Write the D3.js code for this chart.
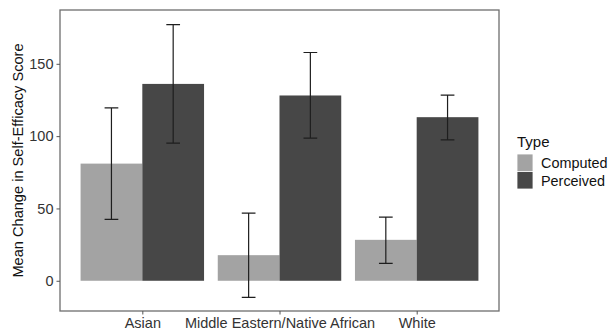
<!DOCTYPE html>
<html>
<head>
<meta charset="utf-8">
<script src="https://cdn.jsdelivr.net/npm/d3@7"></script>
<style>
  body { margin: 0; background: #fff; }
  text { font-family: "Liberation Sans", Arial, sans-serif; }
</style>
</head>
<body>
<div id="chart"></div>
<script>
// data
const groups = ["Asian", "Middle Eastern/Native African", "White"];
const types = ["Computed", "Perceived"];
const computed = [81, 17.7, 28.3];
const computedLow = [42.4, -11.5, 12];
const computedHigh = [119.6, 46.8, 44];
const perceived = [136.1, 128.1, 113.1];
const perceivedLow = [95.2, 98.6, 97.4];
const perceivedHigh = [177.1, 157.8, 128.3];
const yTicks = [0, 50, 100, 150];

const colors = { Computed: "#a3a3a3", Perceived: "#474747" };

const width = 610, height = 331;
const panel = { left: 60, top: 10, right: 499, bottom: 311 };

const svg = d3.select("#chart")
  .append("svg")
  .attr("width", width)
  .attr("height", height);

// ggplot style discrete scale: 0.6 units padding each side
const xCat = d3.scaleLinear()
  .domain([0.4, groups.length + 0.6])
  .range([panel.left, panel.right]);

const y = d3.scaleLinear()
  .domain([-20.9, 187.2])
  .range([panel.bottom, panel.top]);

const barW = 0.45; // in category units

const rows = [];
groups.forEach((g, i) => {
  rows.push({ g: g, i: i, type: "Computed", v: computed[i], lo: computedLow[i], hi: computedHigh[i], off: -barW / 2 });
  rows.push({ g: g, i: i, type: "Perceived", v: perceived[i], lo: perceivedLow[i], hi: perceivedHigh[i], off: barW / 2 });
});

// bars
svg.append("g")
  .selectAll("rect")
  .data(rows)
  .join("rect")
  .attr("x", d => xCat(d.i + 1 + d.off - barW / 2))
  .attr("width", d => xCat(d.i + 1 + d.off + barW / 2) - xCat(d.i + 1 + d.off - barW / 2))
  .attr("y", d => y(Math.max(0, d.v)))
  .attr("height", d => Math.abs(y(d.v) - y(0)))
  .attr("fill", d => colors[d.type]);

// error bars
const capHalf = 0.05;
const err = svg.append("g")
  .attr("stroke", "#1e1e1e")
  .attr("stroke-width", 1.2)
  .attr("fill", "none");

err.selectAll("path")
  .data(rows)
  .join("path")
  .attr("d", d => {
    const c = xCat(d.i + 1 + d.off);
    const l = xCat(d.i + 1 + d.off - capHalf), r = xCat(d.i + 1 + d.off + capHalf);
    return `M${l},${y(d.hi)}H${r}M${c},${y(d.hi)}V${y(d.lo)}M${l},${y(d.lo)}H${r}`;
  });

// panel border
svg.append("rect")
  .attr("x", panel.left)
  .attr("y", panel.top)
  .attr("width", panel.right - panel.left)
  .attr("height", panel.bottom - panel.top)
  .attr("fill", "none")
  .attr("stroke", "#6e6e6e")
  .attr("stroke-width", 1.3);

// x axis
const xAxis = svg.append("g")
  .attr("transform", `translate(0,${panel.bottom})`)
  .call(d3.axisBottom(xCat)
    .tickValues(groups.map((g, i) => i + 1))
    .tickFormat((d, i) => groups[i])
    .tickSize(3.5)
    .tickPadding(3));
xAxis.select(".domain").remove();
xAxis.selectAll("line").attr("stroke", "#555");
xAxis.selectAll("text")
  .attr("fill", "#333")
  .style("font-size", "14.5px")
  .style("font-family", "'Liberation Sans', Arial, sans-serif");

// y axis
const yAxis = svg.append("g")
  .attr("transform", `translate(${panel.left},0)`)
  .call(d3.axisLeft(y)
    .tickValues(yTicks)
    .tickSize(3.5)
    .tickPadding(3));
yAxis.select(".domain").remove();
yAxis.selectAll("line").attr("stroke", "#555");
yAxis.selectAll("text")
  .attr("fill", "#333")
  .style("font-size", "14.5px")
  .style("font-family", "'Liberation Sans', Arial, sans-serif");

// y title
svg.append("text")
  .attr("transform", `translate(23,${(panel.top + panel.bottom) / 2}) rotate(-90)`)
  .attr("text-anchor", "middle")
  .attr("fill", "#111")
  .style("font-size", "14.6px")
  .text("Mean Change in Self-Efficacy Score");

// legend
const legend = svg.append("g").attr("transform", "translate(517,0)");
legend.append("text")
  .attr("x", 0)
  .attr("y", 147)
  .attr("fill", "#111")
  .style("font-size", "15px")
  .text("Type");

legend.selectAll("rect")
  .data(types)
  .join("rect")
  .attr("x", 0)
  .attr("y", (d, i) => 154 + i * 17.5)
  .attr("width", 16)
  .attr("height", 17.5)
  .attr("fill", d => colors[d])
  .attr("stroke", "#fff")
  .attr("stroke-width", 0.8);

legend.selectAll("text.lab")
  .data(types)
  .join("text")
  .attr("class", "lab")
  .attr("x", 24)
  .attr("y", (d, i) => 168 + i * 17.5)
  .attr("fill", "#111")
  .style("font-size", "14.4px")
  .text(d => d);
</script>
</body>
</html>
